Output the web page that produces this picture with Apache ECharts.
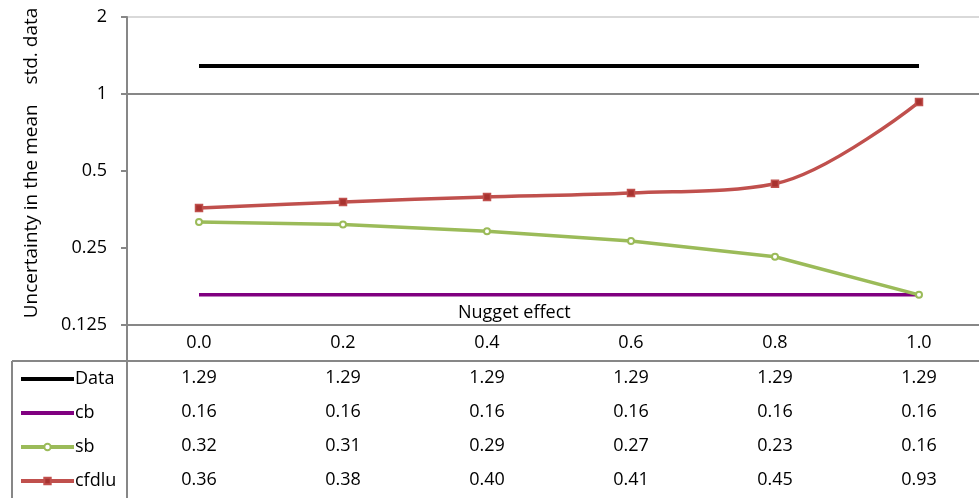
<!DOCTYPE html>
<html><head><meta charset="utf-8">
<script src="https://cdn.jsdelivr.net/npm/echarts@6/dist/echarts.min.js"></script>
<style>html,body{margin:0;padding:0;background:#fff;overflow:hidden}#c{width:991px;height:498px}</style>
</head><body><div id="c"></div>
<script>
const categories = ['0.0','0.2','0.4','0.6','0.8','1.0'];
const dataVals  = [1.287,1.287,1.287,1.287,1.287,1.287];
const cbVals    = [0.164,0.164,0.164,0.164,0.164,0.164];
const sbVals    = [0.316,0.309,0.291,0.266,0.231,0.164];
const cfdluVals = [0.358,0.378,0.396,0.410,0.446,0.930];
const yTicks = [0.125,0.25,0.5,1,2];
const seriesNames = ['Data','cb','sb','cfdlu'];
const rows = [dataVals, cbVals, sbVals, cfdluVals];

const FONT = 'Open Sans';
const FS = 18;
const axisGray = '#878787';

const chart = echarts.init(document.getElementById('c'), null, {renderer:'canvas'});

const rowAxes = rows.map((arr, i) => ({
  type:'category', data:categories, gridIndex:0, position:'bottom',
  offset: 36 + 34*i,
  axisLine:{show: i===0, lineStyle:{color:axisGray, width:2}},
  axisTick:{show:false},
  axisLabel:{margin:8, color:'#000', fontFamily:FONT, fontSize:FS,
    formatter:(v, idx) => arr[idx].toFixed(2)},
  splitLine:{show:false}
}));

const noSym = {opacity:0};
const option = {
  animation:false,
  title:{text:'Nugget effect', left:458, top:304, padding:0,
    textStyle:{fontFamily:FONT, fontSize:FS, fontWeight:'normal', color:'#000'}},
  legend:{
    orient:'vertical', left:19, top:369, padding:0,
    itemWidth:53, itemHeight:8, itemGap:14,
    lineStyle:{width:4},
    textStyle:{fontFamily:FONT, fontSize:FS, color:'#000', lineHeight:20, padding:[0,0,0,-4]},
    data: [
      {name:'Data', itemStyle:noSym},
      {name:'cb', itemStyle:noSym},
      {name:'sb'},
      {name:'cfdlu'}
    ]
  },
  grid:{left:127, top:17, right:0, bottom:173, containLabel:false},
  xAxis:[{
    type:'category', data:categories, position:'bottom',
    axisLine:{lineStyle:{color:axisGray, width:2}},
    axisTick:{show:false},
    axisLabel:{margin:9, color:'#000', fontFamily:FONT, fontSize:FS},
    splitLine:{show:false}
  }].concat(rowAxes),
  yAxis:{
    type:'log', logBase:2, min:yTicks[0], max:yTicks[yTicks.length-1],
    name:'Uncertainty in the mean    std. data', nameLocation:'middle', nameGap:86,
    nameTextStyle:{fontFamily:FONT, fontSize:19, color:'#000', padding:[0,0,0,16]},
    axisLine:{show:true, lineStyle:{color:axisGray, width:2}},
    axisTick:{show:true, length:6, lineStyle:{color:axisGray, width:2}},
    axisLabel:{margin:20, color:'#000', fontFamily:FONT, fontSize:FS,
      formatter:v => String(+v.toPrecision(6))},
    splitLine:{show:true, lineStyle:{color:['rgba(0,0,0,0)','rgba(0,0,0,0)','rgba(0,0,0,0)',axisGray,'#d9d9d9'], width:2}}
  },
  graphic:[
    {type:'line', shape:{x1:127,y1:325,x2:127,y2:498}, style:{stroke:axisGray, lineWidth:2}, silent:true},
    {type:'line', shape:{x1:12,y1:361,x2:127,y2:361}, style:{stroke:axisGray, lineWidth:2}, silent:true},
    {type:'line', shape:{x1:12,y1:361,x2:12,y2:498}, style:{stroke:axisGray, lineWidth:2}, silent:true}
  ],
  series:[
    {name:'Data', type:'line', data:dataVals, showSymbol:false, symbol:'none',
      lineStyle:{color:'#000', width:4}, itemStyle:{color:'#000'}},
    {name:'cb', type:'line', data:cbVals, showSymbol:false, symbol:'none',
      lineStyle:{color:'#800080', width:3.5}, itemStyle:{color:'#800080'}},
    {name:'sb', type:'line', data:sbVals, symbol:'circle', symbolSize:6,
      lineStyle:{color:'#9BBB59', width:3.5},
      itemStyle:{color:'#fff', borderColor:'#9BBB59', borderWidth:2}},
    {name:'cfdlu', type:'line', data:cfdluVals, smooth:0.35, symbol:'rect', symbolSize:7,
      lineStyle:{color:'#C0504D', width:3.5},
      itemStyle:{color:'#A8322F', borderColor:'#C0504D', borderWidth:1.5}}
  ]
};
chart.setOption(option);
</script></body></html>
